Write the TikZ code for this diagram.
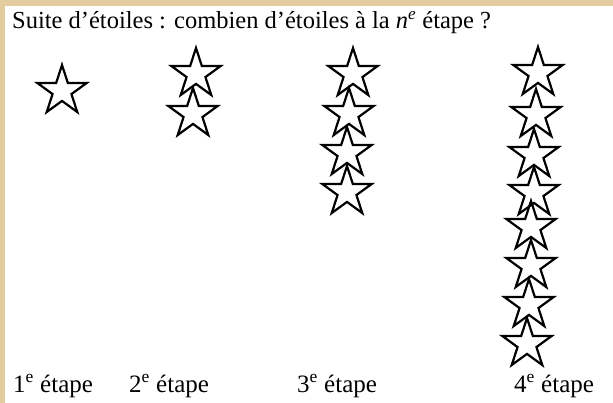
\documentclass[tikz,border=0pt]{standalone}
\usepackage{fontspec}
\setmainfont{Liberation Serif}
\usetikzlibrary{shapes.geometric}
\definecolor{framebeige}{RGB}{227,204,160}
\tikzset{
  starshape/.style={star, star points=5, star point ratio=2.618, minimum size=52pt,
    inner sep=0pt, outer sep=0pt, draw=black, line width=2.2pt},
  titletext/.style={anchor=base west, inner sep=0pt, font=\fontsize{24.5}{28}\selectfont},
  steplabel/.style={anchor=base west, inner sep=0pt, font=\fontsize{25}{29}\selectfont}
}
\begin{document}
\begin{tikzpicture}[x=1pt,y=-1pt]
\useasboundingbox (0,0) rectangle (613,403);
\fill[framebeige] (0,0) rectangle (613,403);
\fill[white] (5,6) rectangle (613,403);
\node[titletext] (title) at (12,29) {Suite d’étoiles : combien d’étoiles à la {\itshape n}\textsuperscript{\itshape e} étape ?};
% stage 1
\node[starshape] (a1) at (62,91) {};
% stage 2
\node[starshape] (b1) at (196,74) {};
\node[starshape] (b2) at (193,114) {};
% stage 3
\node[starshape] (c1) at (353,74) {};
\node[starshape] (c2) at (349,114) {};
\node[starshape] (c3) at (347,153) {};
\node[starshape] (c4) at (347,192) {};
% stage 4
\node[starshape] (d1) at (538,73) {};
\node[starshape] (d2) at (536,115) {};
\node[starshape] (d3) at (534,155) {};
\node[starshape] (d4) at (534,193) {};
\node[starshape] (d5) at (531,227) {};
\node[starshape] (d6) at (531,266) {};
\node[starshape] (d7) at (529,305) {};
\node[starshape] (d8) at (527,344) {};
% labels
\node[steplabel] (l1) at (13,392) {1\textsuperscript{e} étape};
\node[steplabel] (l2) at (129,392) {2\textsuperscript{e} étape};
\node[steplabel] (l3) at (297,392) {3\textsuperscript{e} étape};
\node[steplabel] (l4) at (514,392) {4\textsuperscript{e} étape};
\end{tikzpicture}
\end{document}
